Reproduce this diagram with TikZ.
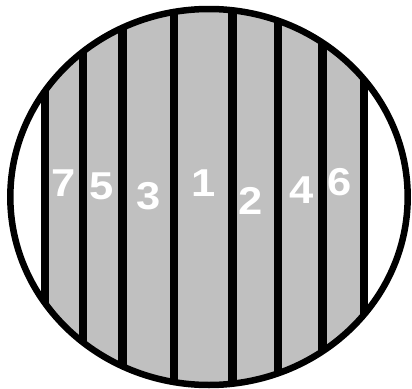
\documentclass[tikz,border=0pt]{standalone}
\usepackage{fontspec}
\usepackage{graphicx}
\setmainfont{Liberation Sans}
\definecolor{stripe}{HTML}{C0C0C0}
\newcommand{\dg}[1]{\scalebox{1.12}[1]{#1}}
\tikzset{
  lbl/.style={text=white, font=\fontsize{39}{39}\selectfont\bfseries, inner sep=0pt},
  bar/.style={line width=8.3bp, black},
  rim/.style={line width=6.5bp, black}
}
\begin{document}
\begin{tikzpicture}[x=1bp,y=-1bp]
\useasboundingbox (0,0) rectangle (412,389);
\begin{scope}
  \clip (209,197) ellipse [x radius=198.7, y radius=188];
  \fill[stripe] (45,0) rectangle (364,389);
  \foreach \x in {45,83,122.5,174,232.5,278,322.5,364}
    \draw[bar] (\x,0) -- (\x,389);
\end{scope}
\draw[rim] (209,197) ellipse [x radius=198.7, y radius=188];
\node[lbl] (n7) at (64,183) {\dg{7}};
\node[lbl] (n5) at (102,186) {\dg{5}};
\node[lbl] (n3) at (149,196) {\dg{3}};
\node[lbl] (n1) at (204,183) {\dg{1}};
\node[lbl] (n2) at (251,201) {\dg{2}};
\node[lbl] (n4) at (302,190) {\dg{4}};
\node[lbl] (n6) at (340,182) {\dg{6}};
\end{tikzpicture}
\end{document}
